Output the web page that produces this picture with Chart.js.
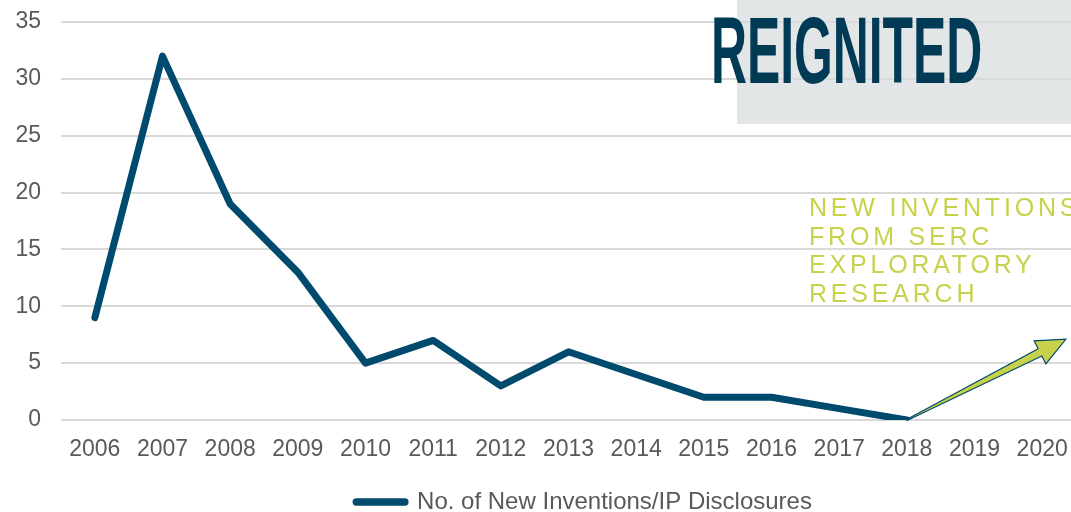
<!DOCTYPE html>
<html>
<head>
<meta charset="utf-8">
<script src="https://cdn.jsdelivr.net/npm/chart.js@4"></script>
<style>
  body { margin: 0; overflow: hidden; background: #fff; width: 1071px; height: 512px; position: relative; }
  #wrap { position: absolute; left: 0; top: 0; width: 1079px; height: 512px; }
  #badge { position: absolute; left: 737px; top: 0; width: 334px; height: 124px; background: #e2e6e7; }
  #title { position: absolute; left: 711px; top: -5px; font-family: "Liberation Sans", Arial, sans-serif; font-weight: bold;
           font-size: 94px; color: #003a55; transform-origin: 0 0; transform: scaleX(0.53); white-space: nowrap; line-height: 1.2; }
  #note { position: absolute; left: 809px; top: 193px; font-family: "Liberation Sans", Arial, sans-serif; font-size: 25px;
          letter-spacing: 3.8px; color: #c8d14a; line-height: 28.7px; white-space: nowrap; }
</style>
</head>
<body>
<div id="badge"></div>
<div id="wrap"><canvas id="lineChart"></canvas></div>
<div id="title">REIGNITED</div>
<div id="note">NEW INVENTIONS<br>FROM SERC<br>EXPLORATORY<br>RESEARCH</div>
<script>
const years = ['2006', '2007', '2008', '2009', '2010', '2011', '2012', '2013', '2014', '2015', '2016', '2017', '2018', '2019', '2020']
const disclosures = [9, 32, 19, 13, 5, 7, 3, 6, 4, 2, 2, 1, 0, null, null]
const yTicks = [0, 5, 10, 15, 20, 25, 30, 35]
// arrow from the last point toward 2020 (category index, value)
const arrowFrom = [12, 0]
const arrowTo = [14.35, 7.1]

const arrowPlugin = {
    id: 'arrow',
    afterDatasetsDraw(chart) {
        const x = chart.scales.x, y = chart.scales.y
        const x0 = x.getPixelForValue(arrowFrom[0]), y0 = y.getPixelForValue(arrowFrom[1])
        const x1 = x.getPixelForValue(arrowTo[0]), y1 = y.getPixelForValue(arrowTo[1])
        const ang = Math.atan2(y1 - y0, x1 - x0)
        const len = Math.hypot(x1 - x0, y1 - y0)
        const headLen = 29, headW = 13, shaftW = 4
        const ctx = chart.ctx
        ctx.save()
        ctx.translate(x0, y0)
        ctx.rotate(ang)
        ctx.beginPath()
        ctx.moveTo(0, 0.5)
        ctx.lineTo(len - headLen, shaftW)
        ctx.lineTo(len - headLen, headW)
        ctx.lineTo(len, 0)
        ctx.lineTo(len - headLen, -headW)
        ctx.lineTo(len - headLen, -shaftW)
        ctx.lineTo(0, -0.5)
        ctx.closePath()
        ctx.fillStyle = '#c8d14a'
        ctx.fill()
        ctx.lineWidth = 1.2
        ctx.strokeStyle = '#004a6e'
        ctx.stroke()
        ctx.restore()
    }
}

const legendShift = {
    id: 'legendShift',
    afterLayout(chart) {
        chart.legend.left += 46
        chart.legend.right += 46
    }
}

new Chart(document.getElementById('lineChart'), {
    type: 'line',
    data: {
        labels: years,
        datasets: [{
            label: 'No. of New Inventions/IP Disclosures',
            data: disclosures,
            borderColor: '#004a6e',
            backgroundColor: '#004a6e',
            borderWidth: 7,
            borderCapStyle: 'round',
            borderJoinStyle: 'round',
            pointRadius: 0,
            tension: 0
        }]
    },
    options: {
        responsive: true,
        maintainAspectRatio: false,
        animation: false,
        layout: { padding: { top: 22, right: 3, left: 0, bottom: -12 } },
        scales: {
            x: {
                offset: true,
                grid: { display: false, drawTicks: false },
                border: { display: false },
                afterFit: (s) => { s.height = 70; s.paddingLeft = 0; s.paddingRight = 0 },
                ticks: { color: '#595959', font: { family: 'Liberation Sans', size: 23 }, padding: 16, maxRotation: 0, autoSkip: false }
            },
            y: {
                min: 0,
                max: 35,
                afterBuildTicks: (s) => { s.ticks = yTicks.map(v => ({ value: v })) },
                afterFit: (s) => { s.width = 61; s.paddingTop = 0; s.paddingBottom = 0 },
                grid: { color: '#d9d9d9', lineWidth: 2, drawTicks: false },
                border: { display: false },
                ticks: { color: '#595959', font: { family: 'Liberation Sans', size: 23 }, padding: 20 }
            }
        },
        plugins: {
            legend: {
                position: 'bottom',
                labels: {
                    color: '#595959',
                    font: { family: 'Liberation Sans', size: 24, lineHeight: 1 },
                    boxWidth: 49,
                    boxHeight: 0.5,
                    useBorderRadius: true,
                    borderRadius: 0.25,
                    padding: 0
                }
            },
            tooltip: { enabled: false }
        }
    },
    plugins: [arrowPlugin, legendShift]
})
</script>
</body>
</html>
